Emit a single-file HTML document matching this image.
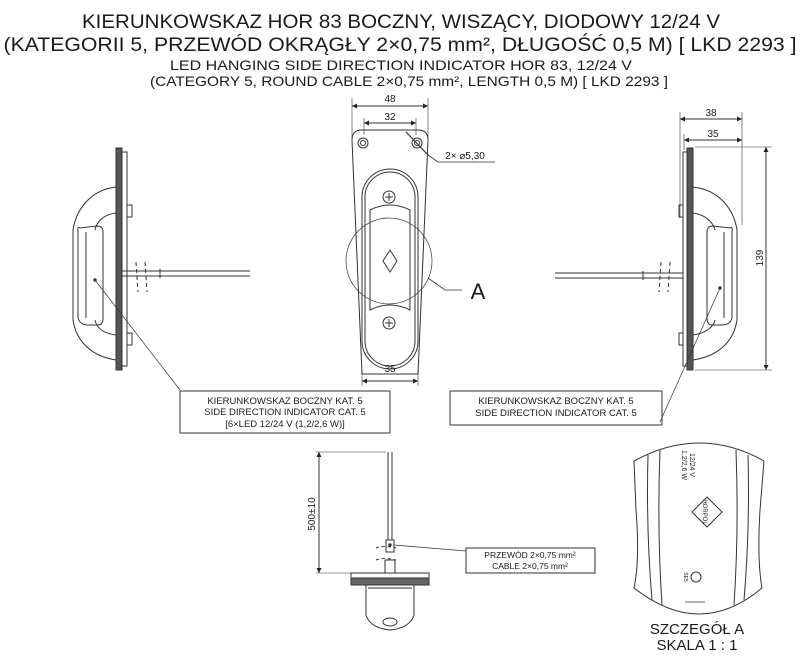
<!DOCTYPE html>
<html><head><meta charset="utf-8"><style>
html,body{margin:0;padding:0;background:#fff;}
svg{display:block;font-family:"Liberation Sans",Arial,sans-serif;}
</style></head><body>
<svg width="800" height="672" viewBox="0 0 800 672" xmlns="http://www.w3.org/2000/svg">
<defs>
<marker id="a" viewBox="0 0 10 10" refX="10" refY="5" markerWidth="8" markerHeight="5" orient="auto-start-reverse"><path d="M0,0L10,5L0,10z" fill="#222"/></marker>
</defs>
<g fill="#1a1a1a" text-anchor="middle" lengthAdjust="spacingAndGlyphs">
<text x="401" y="28" font-size="19" textLength="638" lengthAdjust="spacingAndGlyphs">KIERUNKOWSKAZ HOR 83 BOCZNY, WISZĄCY, DIODOWY 12/24 V</text>
<text x="400" y="51" font-size="19" textLength="793" lengthAdjust="spacingAndGlyphs">(KATEGORII 5, PRZEWÓD OKRĄGŁY 2×0,75 mm², DŁUGOŚĆ 0,5 M) [ LKD 2293 ]</text>
<text x="401" y="70" font-size="14" textLength="462" lengthAdjust="spacingAndGlyphs">LED HANGING SIDE DIRECTION INDICATOR HOR 83, 12/24 V</text>
<text x="409" y="86" font-size="14" textLength="518" lengthAdjust="spacingAndGlyphs">(CATEGORY 5, ROUND CABLE 2×0,75 mm², LENGTH 0,5 M)  [ LKD 2293 ]</text>
</g>

<g fill="none" stroke="#333" stroke-width="1">
<!-- LEFT SIDE VIEW -->
<rect x="116" y="148" width="6" height="222" fill="#555"/>
<rect x="122" y="152" width="5" height="214"/>
<rect x="127" y="205" width="5" height="12"/>
<rect x="127" y="333" width="5" height="12"/>
<path d="M116,187 C90,190 76,210 73,230 L73,320 C76,340 90,356 116,360"/>
<path d="M116,213 C100,215 96,225 95,230 M116,335 C100,333 96,325 95,320"/>
<path d="M80,228 Q77,226 78,232 L78,318 Q80,325 88,325 L98,325 Q103,325 103,318 L103,232 Q103,226 97,226 Z"/>
<path d="M86,232 L86,318"/>
<line x1="122" y1="271" x2="250" y2="271"/><line x1="122" y1="276" x2="250" y2="276"/>
<line x1="160" y1="269" x2="160" y2="278"/>
<path d="M136,262 l2,30 M145,262 l2,30" stroke-dasharray="4,3"/>
<line x1="95" y1="280" x2="180" y2="390" stroke-width="0.7"/>
<circle cx="95" cy="280" r="1.2" fill="#333"/>
<rect x="180" y="391" width="210" height="42"/>

<!-- FRONT VIEW -->
<path d="M352,140 Q352,130 362,130 L418,130 Q428,130 428,140 L418,374 L362,374 Z"/>
<circle cx="363" cy="143" r="5"/><circle cx="363" cy="143" r="2.5"/>
<circle cx="417" cy="143" r="5"/><circle cx="417" cy="143" r="2.5"/>
<rect x="362" y="169" width="56" height="200" rx="28"/>
<rect x="365" y="172" width="50" height="194" rx="25"/>
<path d="M370,210 Q390,200 410,210 L410,310 Q390,300 370,310 Z"/>
<circle cx="389" cy="197" r="6"/><path d="M385,197h8M389,193v8"/>
<circle cx="389" cy="323" r="6"/><path d="M385,323h8M389,319v8"/>
<path d="M390,250 l7,11 -7,11 -7,-11z"/>
<circle cx="389" cy="261" r="43" stroke-width="0.7"/>
<path d="M428,278 L445,290 L462,290" stroke-width="0.8"/>
<line x1="352" y1="98" x2="352" y2="138" stroke-width="0.6"/>
<line x1="428" y1="98" x2="428" y2="138" stroke-width="0.6"/>
<line x1="352" y1="106" x2="428" y2="106" marker-start="url(#a)" marker-end="url(#a)"/>
<line x1="364" y1="118" x2="364" y2="135" stroke-width="0.6"/>
<line x1="416" y1="118" x2="416" y2="135" stroke-width="0.6"/>
<line x1="364" y1="123" x2="416" y2="123" marker-start="url(#a)" marker-end="url(#a)"/>
<line x1="406" y1="132" x2="428" y2="155" stroke-width="1.2"/>
<path d="M428,155 L438,162 L495,162" stroke-width="0.8"/>
<line x1="362" y1="370" x2="362" y2="386" stroke-width="0.6"/>
<line x1="418" y1="370" x2="418" y2="386" stroke-width="0.6"/>
<line x1="362" y1="381" x2="418" y2="381" marker-start="url(#a)" marker-end="url(#a)"/>

<!-- RIGHT SIDE VIEW -->
<rect x="687" y="148" width="6" height="222" fill="#555"/>
<rect x="683" y="152" width="4" height="214"/>
<rect x="679" y="205" width="4" height="12"/>
<rect x="679" y="333" width="4" height="12"/>
<path d="M693,187 C720,190 734,210 737,230 L737,320 C734,340 720,356 693,360"/>
<path d="M693,213 C708,215 714,225 715,230 M693,335 C708,333 714,325 715,320"/>
<path d="M730,228 Q733,226 732,232 L732,318 Q730,325 722,325 L712,325 Q707,325 707,318 L707,232 Q707,226 713,226 Z"/>
<path d="M724,232 L724,318"/>
<line x1="555" y1="273" x2="683" y2="273"/><line x1="555" y1="278" x2="683" y2="278"/>
<line x1="643" y1="271" x2="643" y2="280"/>
<path d="M661,262 l-2,30 M670,262 l-2,30" stroke-dasharray="4,3"/>
<line x1="720" y1="288" x2="660" y2="422" stroke-width="0.7"/>
<circle cx="720" cy="288" r="1.2" fill="#333"/>
<rect x="450" y="391" width="212" height="34"/>
<line x1="680" y1="112" x2="680" y2="218" stroke-width="0.6"/>
<line x1="742" y1="112" x2="742" y2="225" stroke-width="0.6"/>
<line x1="684" y1="134" x2="684" y2="150" stroke-width="0.6"/>
<line x1="680" y1="119" x2="742" y2="119" marker-start="url(#a)" marker-end="url(#a)"/>
<line x1="684" y1="140" x2="742" y2="140" marker-start="url(#a)" marker-end="url(#a)"/>
<line x1="695" y1="147" x2="772" y2="147" stroke-width="0.6"/>
<line x1="695" y1="370" x2="772" y2="370" stroke-width="0.6"/>
<line x1="766" y1="147" x2="766" y2="370" marker-start="url(#a)" marker-end="url(#a)"/>

<!-- BOTTOM VIEW -->
<line x1="388" y1="452" x2="388" y2="540"/><line x1="392" y1="452" x2="392" y2="540"/>
<rect x="386" y="540" width="8" height="12"/>
<circle cx="390" cy="545" r="1.2" fill="#333"/>
<rect x="385" y="560" width="10" height="13"/>
<path d="M376,548 q8,-3 20,0 M376,560 q8,-3 20,0" stroke-dasharray="3,3"/>
<rect x="351" y="573" width="78" height="5"/>
<rect x="351" y="578" width="78" height="7" fill="#666"/>
<path d="M366,585 L366,615 Q370,628 390,630 Q410,628 414,615 L414,585"/>
<path d="M368,588 L412,588"/>
<ellipse cx="390" cy="622" rx="7" ry="4"/>
<line x1="316" y1="452" x2="386" y2="452" stroke-width="0.6"/>
<line x1="316" y1="573" x2="352" y2="573" stroke-width="0.6"/>
<line x1="319" y1="452" x2="319" y2="573" marker-start="url(#a)" marker-end="url(#a)"/>
<line x1="394" y1="545" x2="466" y2="551" stroke-width="0.7"/>
<rect x="466" y="548" width="129" height="25"/>

<!-- DETAIL A -->
<path d="M634,461 Q700,425 764,461 L760,510 Q757,560 762,588 Q700,640 634,588 Q640,560 636,510 Z"/>
<path d="M648,455 Q646,530 652,600 M660,450 Q657,530 662,605 M748,455 Q750,530 744,600 M736,450 Q739,530 734,605"/>
<path d="M707,497 l15,15 -15,15 -15,-15z"/>
<circle cx="696" cy="577" r="5"/>
<path d="M685,602 l20,0" stroke-width="0.7"/>
</g>
<g fill="#222" font-size="7" text-anchor="middle">
<text transform="translate(690,465) rotate(90)">12/24 V</text>
<text transform="translate(682,465) rotate(90)">1,2/2,6 W</text>
<text transform="translate(703,512) rotate(90)" font-size="6">HORPOL</text>
<text transform="translate(684,577) rotate(90)" font-size="5">SE5</text>
</g>
<g fill="#1a1a1a" text-anchor="middle">
<text x="390" y="102" font-size="10">48</text>
<text x="390" y="120" font-size="10">32</text>
<text x="390" y="372" font-size="10">35</text>
<text x="465" y="159" font-size="10">2× ⌀5,30</text>
<text x="478" y="299" font-size="22">A</text>
<text x="711" y="116" font-size="10">38</text>
<text x="713" y="137" font-size="10">35</text>
<text transform="translate(763,258) rotate(-90)" font-size="10">139</text>
<text transform="translate(315,514) rotate(-90)" font-size="10">500±10</text>
<text x="285" y="404" font-size="9.5">KIERUNKOWSKAZ BOCZNY KAT. 5</text>
<text x="285" y="415" font-size="9.5">SIDE DIRECTION INDICATOR CAT. 5</text>
<text x="285" y="427" font-size="9.5">[6×LED 12/24 V (1,2/2,6 W)]</text>
<text x="556" y="404" font-size="9.5">KIERUNKOWSKAZ BOCZNY KAT. 5</text>
<text x="556" y="416" font-size="9.5">SIDE DIRECTION INDICATOR CAT. 5</text>
<text x="530" y="558" font-size="8.5">PRZEWÓD 2×0,75 mm²</text>
<text x="530" y="569" font-size="8.5">CABLE 2×0,75 mm²</text>
<text x="697" y="634" font-size="15">SZCZEGÓŁ A</text>
<text x="697" y="650" font-size="15">SKALA 1 : 1</text>
</g>
</svg>
</body></html>
